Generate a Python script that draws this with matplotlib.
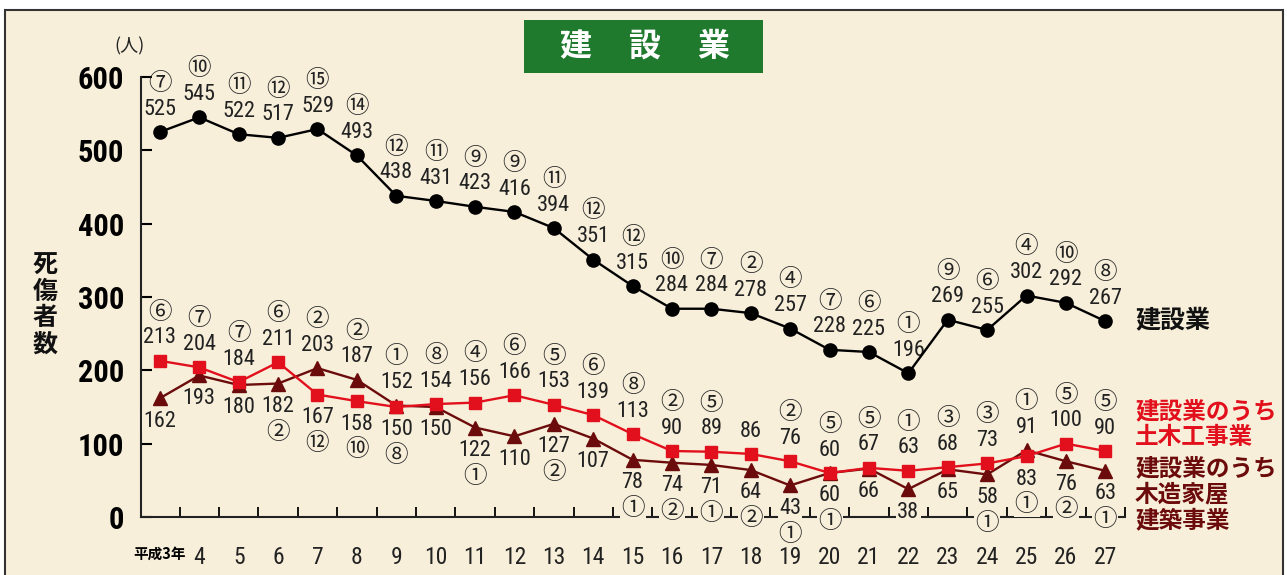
import matplotlib

matplotlib.use("Agg")
import matplotlib.pyplot as plt
from matplotlib import font_manager
from matplotlib.font_manager import FontProperties
from matplotlib.patches import Rectangle

# years (平成), deaths+injuries, and fatalities (circled numbers)
years = ["平成3年"] + [str(y) for y in range(4, 28)]

total = [525, 545, 522, 517, 529, 493, 438, 431, 423, 416, 394, 351, 315,
         284, 284, 278, 257, 228, 225, 196, 269, 255, 302, 292, 267]
total_dead = [7, 10, 11, 12, 15, 14, 12, 11, 9, 9, 11, 12, 12,
              10, 7, 2, 4, 7, 6, 1, 9, 6, 4, 10, 8]

civil = [213, 204, 184, 211, 167, 158, 150, 154, 156, 166, 153, 139, 113,
         90, 89, 86, 76, 60, 67, 63, 68, 73, 83, 100, 90]
civil_dead = [6, 7, 7, 6, 12, 10, 8, 8, 4, 6, 5, 6, 8,
              2, 5, None, 2, 5, 5, 1, 3, 3, 1, 5, 5]

wood = [162, 193, 180, 182, 203, 187, 152, 150, 122, 110, 127, 107, 78,
        74, 71, 64, 43, 60, 66, 38, 65, 58, 91, 76, 63]
wood_dead = [None, None, None, 2, 2, 2, 1, None, 1, None, 2, None, 1,
             2, 1, 2, 1, 1, None, None, None, 1, 1, 2, 1]

BG = "#f7efda"
RED = "#e2101c"
BROWN = "#6c0b0b"
GREEN = "#1f7a2e"
TXT = "#222222"
JP = "Noto Sans CJK JP"
plt.rcParams["font.family"] = [JP, "DejaVu Sans"]


def narrow_font(bold=False):
    # look for a condensed face for the numbers, else plain Liberation Sans
    want = 700 if bold else 400
    prefs = ["Liberation Sans Narrow", "Roboto Condensed", "DejaVu Sans", "Open Sans Condensed"]
    for name in prefs:
        for f in font_manager.fontManager.ttflist:
            w = f.weight if isinstance(f.weight, int) else (700 if f.weight == "bold" else 400)
            narrow = "Narrow" in f.name or "Condensed" in f.name or "condensed" in str(f.stretch)
            if f.name == name and narrow and w == want and f.style == "normal":
                return FontProperties(fname=f.fname)
    return FontProperties(family="Liberation Sans", weight="bold" if bold else "normal")


NUM = narrow_font()
NUM_B = narrow_font(bold=True)

W, H = 1287, 575
fig = plt.figure(figsize=(W / 100, H / 100), dpi=100, facecolor="white")


def px(x, y):
    return x / W, 1 - y / H


# cream panel with frame
fig.patches.append(Rectangle(px(5, 590), 1278 / W, 580 / H, transform=fig.transFigure,
                             facecolor=BG, edgecolor="#333333", lw=1.5, zorder=-10))

ax = fig.add_axes([141 / W, 58 / H, (1125 - 141) / W, 440 / H])
ax.set_facecolor("none")
x = list(range(len(years)))

ax.plot(x, total, color="black", lw=1.7, marker="o", ms=9.5, zorder=4)
ax.plot(x, civil, color=RED, lw=1.7, marker="s", ms=9, zorder=4)
ax.plot(x, wood, color=BROWN, lw=1.7, marker="^", ms=9.5, zorder=3.5)

ax.set_xlim(-0.48, 24.5)
ax.set_ylim(0, 600)
for s in ("top", "right"):
    ax.spines[s].set_visible(False)
for s in ("left", "bottom"):
    ax.spines[s].set_linewidth(1.5)
    ax.spines[s].set_color("#222222")

ax.set_yticks(range(0, 601, 100))
ax.tick_params(axis="y", direction="in", length=8, width=1.5, pad=12)
for lab in ax.get_yticklabels():
    lab.set_fontproperties(NUM_B)
    lab.set_fontsize(22)

ax.set_xticks([i + 0.5 for i in range(len(years))])
ax.set_xticklabels([])
ax.tick_params(axis="x", direction="in", length=7, width=1.3)
ax.set_xticks(x, minor=True)
ax.set_xticklabels(years, minor=True)
ax.tick_params(axis="x", which="minor", length=0, pad=21)
for i, lab in enumerate(ax.get_xticklabels(minor=True)):
    if i == 0:
        lab.set_family([JP])
        lab.set_fontsize(10.5)
        lab.set_fontweight("bold")
    else:
        lab.set_fontproperties(NUM)
        lab.set_fontsize(17)
        lab.set_color(TXT)


def circ(n):
    return chr(0x2460 + n - 1)


def label(xi, yi, val, dead, side, color=TXT):
    d = 1 if side == "up" else -1
    box = dict(boxstyle="square,pad=0.05", facecolor=BG, edgecolor="none")
    ax.annotate(str(val), (xi, yi), xytext=(0, 16.5 * d), textcoords="offset points",
                ha="center", va="center", fontproperties=NUM, fontsize=16, color=color,
                bbox=box if d < 0 else None, zorder=2.7, annotation_clip=False)
    if dead is not None:
        ax.annotate(circ(dead), (xi, yi), xytext=(0, 35 * d), textcoords="offset points",
                    ha="center", va="center", fontsize=17, family=[JP], color=color,
                    bbox=box if d < 0 else None, zorder=2.7, annotation_clip=False)


for i in x:
    label(i, total[i], total[i], total_dead[i], "up")
    wood_up = wood[i] > civil[i]
    label(i, civil[i], civil[i], civil_dead[i], "down" if wood_up else "up")
    label(i, wood[i], wood[i], wood_dead[i], "up" if wood_up else "down")

# unit
fig.text(*px(129, 46), "(人)", ha="center", va="center", fontsize=13, color=TXT)
# y label
fig.text(*px(45, 305), "死\n傷\n者\n数", ha="center", va="center", fontsize=18,
         fontweight="bold", linespacing=1.12, color="#111111")

# title box
fig.patches.append(Rectangle(px(524, 73), (763 - 524) / W, 53 / H, transform=fig.transFigure,
                             facecolor=GREEN, edgecolor="none", zorder=1))
for cx, ch in zip((575, 644, 713), "建設業"):
    fig.text(*px(cx, 47), ch, ha="center", va="center", fontsize=23,
             fontweight="bold", color="white", zorder=2)

# series names
fig.text(*px(1135, 320), "建設業", ha="left", va="center", fontsize=18,
         fontweight="bold", color="#111111")
fig.text(*px(1135, 424), "建設業のうち\n土木工事業", ha="left", va="center",
         fontsize=17, fontweight="bold", color=RED, linespacing=1.1)
fig.text(*px(1135, 494), "建設業のうち\n木造家屋\n建築事業", ha="left", va="center",
         fontsize=17, fontweight="bold", color=BROWN, linespacing=1.1)

fig.savefig("out.png", dpi=100, facecolor="white")
